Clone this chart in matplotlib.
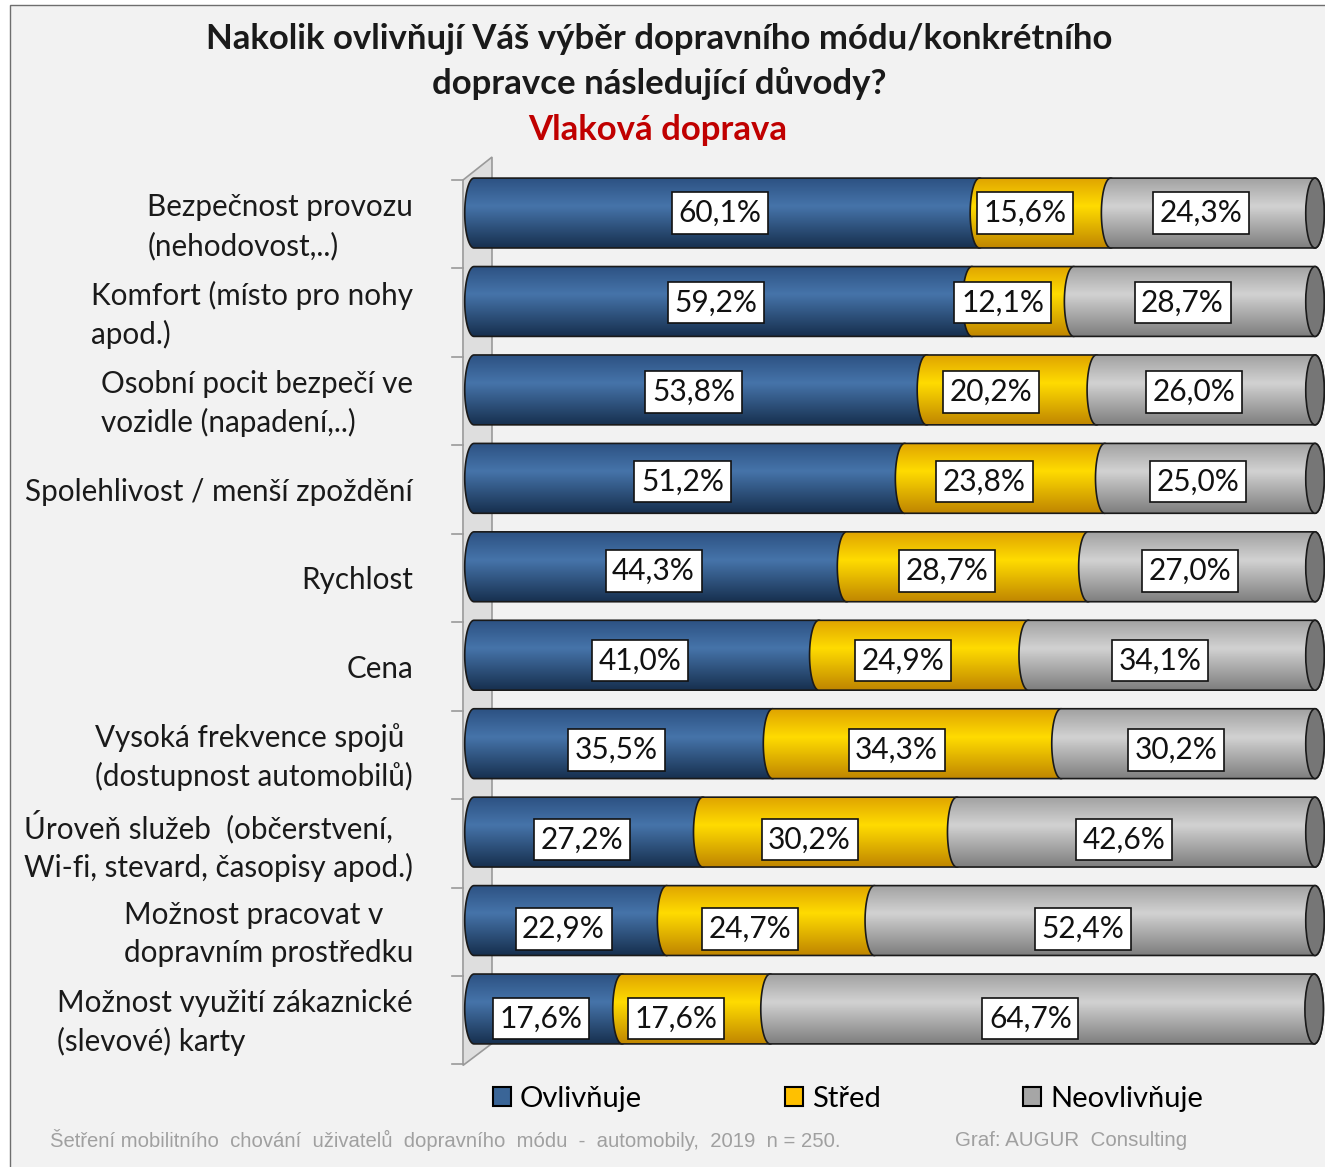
import numpy as np
import matplotlib.pyplot as plt
from matplotlib.patches import Polygon, Ellipse, Patch, Rectangle
from matplotlib.colors import LinearSegmentedColormap

categories = ['Bezpečnost provozu\n(nehodovost,..)',
              'Komfort (místo pro nohy\napod.)',
              'Osobní pocit bezpečí ve\nvozidle (napadení,..)',
              'Spolehlivost / menší zpoždění',
              'Rychlost',
              'Cena',
              'Vysoká frekvence spojů\n(dostupnost automobilů)',
              'Úroveň služeb  (občerstvení,\nWi-fi, stevard, časopisy apod.)',
              'Možnost pracovat v\ndopravním prostředku',
              'Možnost využití zákaznické\n(slevové) karty']
ovlivnuje = [60.1, 59.2, 53.8, 51.2, 44.3, 41.0, 35.5, 27.2, 22.9, 17.6]
stred = [15.6, 12.1, 20.2, 23.8, 28.7, 24.9, 34.3, 30.2, 24.7, 17.6]
neovlivnuje = [24.3, 28.7, 26.0, 25.0, 27.0, 34.1, 30.2, 42.6, 52.4, 64.7]
series_names = ['Ovlivňuje', 'Střed', 'Neovlivňuje']

FONT = ['Lato', 'DejaVu Sans']
plt.rcParams['font.family'] = FONT

W, H = 1325, 1167
fig = plt.figure(figsize=(W / 100, H / 100), dpi=100)
fig.patch.set_facecolor('white')
fig.patches.append(Rectangle((10 / W, -0.1), 1.2, 1.1 - 5 / H, transform=fig.transFigure,
                             facecolor='#f2f2f2', edgecolor='#6e6e6e', lw=1, zorder=-5))

ax = fig.add_axes([0.33996, 0.07883, 0.66004, 0.79263])
ax.axis('off')

cmaps = [
    LinearSegmentedColormap.from_list('b', [(0, '#2d5283'), (0.4, '#4674aa'), (1, '#17304f')]),
    LinearSegmentedColormap.from_list('y', [(0, '#e0a400'), (0.4, '#ffdc00'), (1, '#c08600')]),
    LinearSegmentedColormap.from_list('g', [(0, '#a2a2a2'), (0.4, '#d2d2d2'), (1, '#7e7e7e')]),
]
legend_colors = ['#3a6597', '#ffc000', '#a6a6a6']
label_dx = [-0.8, -2.4, -1.4]   # Excel puts the 3D labels a little left of centre

bh = 0.79   # bar thickness
a = 1.1     # half width of the elliptical ends
grad = np.linspace(0, 1, 100).reshape(-1, 1)


def stadium(x0, x1, yc):
    t = np.linspace(-np.pi / 2, np.pi / 2, 60)
    right = np.column_stack([x1 + a * np.cos(t), yc + bh / 2 * np.sin(t)])
    t2 = np.linspace(np.pi / 2, 3 * np.pi / 2, 60)
    left = np.column_stack([x0 + a * np.cos(t2), yc + bh / 2 * np.sin(t2)])
    return np.vstack([right, left])


def segment(x0, x1, yc, cmap, z):
    poly = Polygon(stadium(x0, x1, yc), closed=True, facecolor='none',
                   edgecolor='#1a1a1a', lw=1.2, zorder=z + 0.1)
    ax.add_patch(poly)
    im = ax.imshow(grad, cmap=cmap, aspect='auto', interpolation='bicubic',
                   extent=(x0 - a, x1 + a, yc + bh / 2, yc - bh / 2), zorder=z)
    im.set_clip_path(poly)


def fmt(v):
    return f'{v:.1f}'.replace('.', ',') + '%'


n = len(categories)
# left wall of the 3D plot
wall = Polygon([(-1.31, -0.373), (2.14, -0.633), (2.14, n - 0.61), (-1.31, n - 0.362)],
               closed=True, facecolor='#dedede', edgecolor='#9a9a9a', lw=1.2, zorder=1)
ax.add_patch(wall)
for i in range(n + 1):
    ax.plot([-2.6, -1.31], [i - 0.373, i - 0.373], color='#9a9a9a', lw=1.2, zorder=1)

for i in range(n):
    vals = [ovlivnuje[i], stred[i], neovlivnuje[i]]
    starts = np.concatenate([[0], np.cumsum(vals)[:-1]])
    for k in range(3):
        segment(starts[k], starts[k] + vals[k], i, cmaps[k], 2 + k * 0.5)
    end = starts[2] + vals[2]
    ax.add_patch(Ellipse((end, i), 2 * a, bh, facecolor='#767676',
                         edgecolor='#1a1a1a', lw=1.2, zorder=4))
    for k in range(3):
        ax.text(starts[k] + vals[k] / 2 + label_dx[k], i + 0.012 * i, fmt(vals[k]),
                ha='center', va='center', fontsize=21.5, color='#111111', zorder=10,
                bbox=dict(boxstyle='square,pad=0.22', facecolor='white',
                          edgecolor='#111111', lw=1.2))
    ax.text(-7.25, i + 0.155, categories[i], ha='right', va='center',
            multialignment='left', fontsize=21.3, color='#1a1a1a', linespacing=1.42)

ax.set_xlim(-2.8, 101.19)
ax.set_ylim(9.7466, -0.7127)

fig.text(659 / W, 1 - 39 / H, 'Nakolik ovlivňují Váš výběr dopravního módu/konkrétního',
         ha='center', va='center', fontsize=25, fontweight='bold', color='#1a1a1a')
fig.text(659 / W, 1 - 84 / H, 'dopravce následující důvody?',
         ha='center', va='center', fontsize=25, fontweight='bold', color='#1a1a1a')
fig.text(658 / W, 1 - 130 / H, 'Vlaková doprava',
         ha='center', va='center', fontsize=25, fontweight='bold', color='#c00000')

handles = [Patch(facecolor=c, edgecolor='black', lw=1.5) for c in legend_colors]
fig.legend(handles, series_names, ncol=3, loc='center', bbox_to_anchor=(848 / W, 1 - 1099 / H),
           frameon=False, fontsize=21, handlelength=0.62, handleheight=0.62,
           handletextpad=0.3, columnspacing=4.9)

fig.text(50 / W, 1 - 1140 / H,
         'Šetření mobilitního  chování  uživatelů  dopravního  módu  -  automobily,  2019  n = 250.',
         ha='left', va='center', fontsize=14.6, color='#a0a0a0', family='Liberation Sans')
fig.text(955 / W, 1 - 1140 / H, 'Graf: AUGUR  Consulting',
         ha='left', va='center', fontsize=14.8, color='#a0a0a0', family='Liberation Sans')

fig.savefig('out.png', dpi=100, facecolor=fig.get_facecolor())
